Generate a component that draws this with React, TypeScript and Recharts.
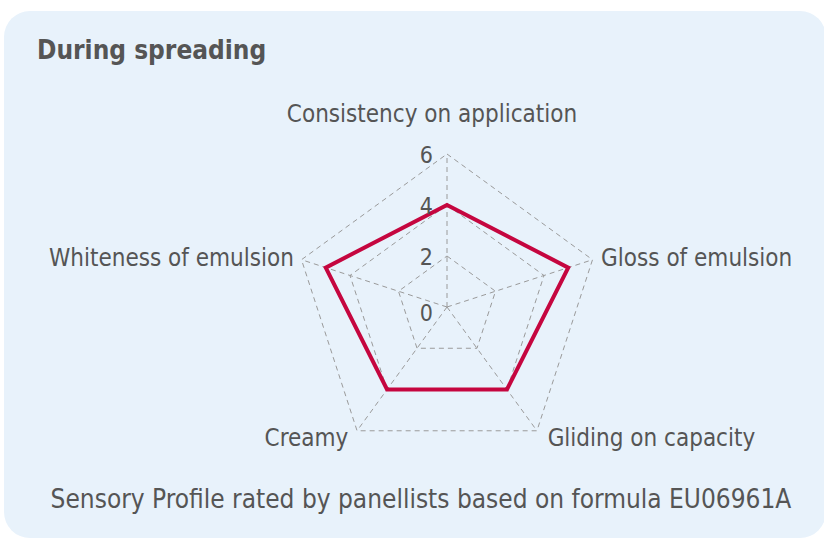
import { RadarChart, Radar, PolarGrid, PolarAngleAxis, PolarRadiusAxis } from "recharts";

const attributes = [
  "Consistency on application",
  "Gloss of emulsion",
  "Gliding on capacity",
  "Creamy",
  "Whiteness of emulsion",
];
const scores = [4, 5, 4, 4, 5];
const radiusTicks = [0, 2, 4, 6];

const data = attributes.map((attribute, i) => ({ attribute, score: scores[i] }));

const FONT = "'DejaVu Sans Condensed', 'DejaVu Sans', sans-serif";
const TEXT = "#555";

// angle-axis labels sit a little off the default tick spot
function AngleTick(props: any) {
  const { x, y, cx, cy, payload } = props;
  const dx = x - cx;
  const dy = y - cy;
  let anchor: "start" | "middle" | "end" = "middle";
  let tx = x;
  let ty = y;
  if (dy < -100) {
    tx = x - 15;
    ty = y - 32;
  } else if (dy < 0) {
    anchor = dx > 0 ? "start" : "end";
    tx = dx > 0 ? x + 1 : x;
    ty = y + 1;
  } else {
    anchor = dx > 0 ? "start" : "end";
    tx = dx > 0 ? x + 6 : x - 4;
    ty = y + 1;
  }
  return (
    <text x={tx} y={ty} textAnchor={anchor} dominantBaseline="central" fill={TEXT} fontSize={24} fontFamily={FONT}>
      {payload.value}
    </text>
  );
}

function RadiusTick(props: any) {
  const { x, y, payload } = props;
  return (
    <text x={x - 14} y={payload.value === 0 ? y + 6 : y + 1} textAnchor="end" dominantBaseline="central" fill={TEXT} fontSize={23} fontFamily={FONT}>
      {payload.value}
    </text>
  );
}

export default function App() {
  return (
    <div style={{ position: "absolute", left: 0, top: 0, width: 824, height: 540, overflow: "hidden", background: "#fff" }}>
      <div
        style={{
          position: "absolute",
          left: 4,
          top: 11,
          width: 822,
          height: 527,
          background: "#e8f2fb",
          borderRadius: 26,
        }}
      />
      <div
        style={{
          position: "absolute",
          left: 37,
          top: 35,
          lineHeight: "30px",
          fontFamily: FONT,
          fontWeight: "bold",
          fontSize: 26,
          color: TEXT,
        }}
      >
        During spreading
      </div>
      <div style={{ position: "absolute", left: 0, top: 0 }}>
        <RadarChart width={824} height={540} data={data} cx={447} cy={307} outerRadius={153} startAngle={90} endAngle={-270}>
          <PolarGrid gridType="polygon" stroke="#9a9a9a" strokeDasharray="5 4" />
          <PolarAngleAxis dataKey="attribute" tick={<AngleTick />} tickLine={false} axisLine={false} />
          <PolarRadiusAxis
            angle={90}
            domain={[0, 6]}
            ticks={radiusTicks}
            tick={<RadiusTick />}
            axisLine={false}
            tickLine={false}
          />
          <Radar dataKey="score" stroke="#c5063f" strokeWidth={4} fill="none" fillOpacity={0} isAnimationActive={false} />
        </RadarChart>
      </div>
      <div
        style={{
          position: "absolute",
          left: 0,
          width: 842,
          top: 484,
          lineHeight: "30px",
          textAlign: "center",
          fontFamily: FONT,
          fontSize: 26,
          color: TEXT,
        }}
      >
        Sensory Profile rated by panellists based on formula EU06961A
      </div>
    </div>
  );
}
